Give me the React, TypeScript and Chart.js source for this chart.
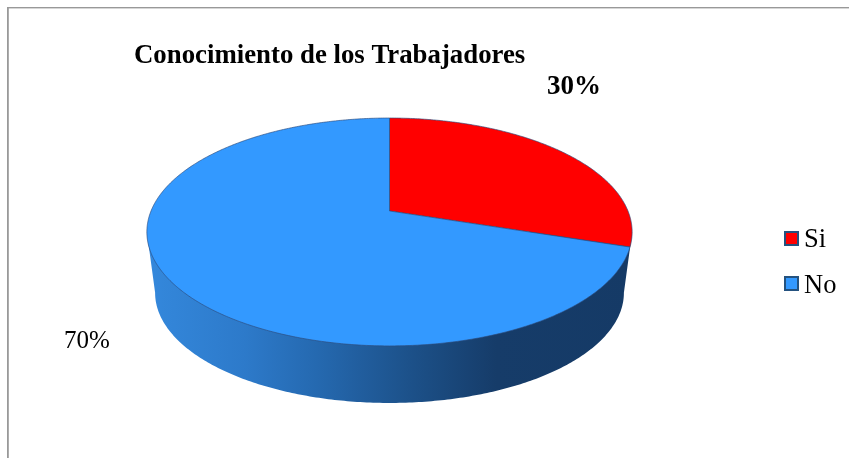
import React, { useEffect, useRef } from "react";
import { Chart, registerables } from "chart.js";

Chart.register(...registerables);

const categories = ["Si", "No"];
const shareValues = [30, 70];
const sliceColors = ["#ff0000", "#3399ff"];
const chartTitle = "Conocimiento de los Trabajadores";
const SERIF = '"Liberation Serif", serif';

// perspective of the disc
const CX = 389.5;
const APEX_Y = 211;
const RX = 238.5;
const SY = 110.1;
const K = -0.184;
const BOTTOM_SCALE = 0.966;
const BOTTOM_APEX_Y = 272.6;

const top = (a: number) => {
  const u = Math.cos(a), v = Math.sin(a), w = 1 + K * v;
  return [CX + (RX * u) / w, APEX_Y + (SY * v) / w];
};
const bottom = (a: number) => {
  const u = Math.cos(a), v = Math.sin(a), w = 1 + K * v;
  return [CX + (RX * BOTTOM_SCALE * u) / w, BOTTOM_APEX_Y + (SY * BOTTOM_SCALE * v) / w];
};

const tiltedPie = {
  id: "tiltedPie",
  afterLayout(chart: any) {
    const t = chart.titleBlock;
    if (t) {
      const lh = t.options.font.size * 1.2;
      t.left = 134;
      t.right = 600;
      t.top = 56.5 - lh / 2;
      t.bottom = 56.5 + lh / 2;
    }
  },
  beforeDraw(chart: any) {
    const { ctx } = chart;
    ctx.save();
    ctx.fillStyle = "#999999";
    ctx.fillRect(7, 7, 842, 1.4);
    ctx.fillRect(7, 7, 1.8, 451);
    ctx.restore();
  },
  beforeDatasetDraw(chart: any, args: any) {
    const { ctx } = chart;
    const arcs = args.meta.data;
    const ds = chart.data.datasets[args.index];
    ctx.save();

    // side wall
    const a0 = Math.asin(-K);
    const a1 = Math.PI - a0;
    const g = ctx.createLinearGradient(147, 0, 632, 0);
    g.addColorStop(0, "#3488dc");
    g.addColorStop(0.2, "#2d7aca");
    g.addColorStop(0.35, "#2569b0");
    g.addColorStop(0.55, "#1c5088");
    g.addColorStop(0.72, "#163c69");
    g.addColorStop(1, "#153a66");
    ctx.beginPath();
    ctx.moveTo(...(top(a0) as [number, number]));
    for (let i = 0; i <= 240; i++) {
      const p = bottom(a0 + ((a1 - a0) * i) / 240);
      ctx.lineTo(p[0], p[1]);
    }
    const pe = top(a1);
    ctx.lineTo(pe[0], pe[1]);
    ctx.closePath();
    ctx.fillStyle = g;
    ctx.fill();

    // top face, one wedge per arc element
    arcs.forEach((arc: any, i: number) => {
      const { startAngle, endAngle } = arc.getProps(["startAngle", "endAngle"], true);
      ctx.beginPath();
      ctx.moveTo(CX, APEX_Y);
      const n = Math.ceil(((endAngle - startAngle) * 180) / Math.PI) * 2;
      for (let j = 0; j <= n; j++) {
        const p = top(startAngle + ((endAngle - startAngle) * j) / n);
        ctx.lineTo(p[0], p[1]);
      }
      ctx.closePath();
      ctx.fillStyle = ds.backgroundColor[i];
      ctx.fill();
      ctx.strokeStyle = "rgba(45,75,125,0.65)";
      ctx.lineWidth = 1;
      ctx.stroke();
    });
    ctx.restore();
    return false;
  },
  afterDraw(chart: any) {
    const { ctx } = chart;
    const values: number[] = chart.data.datasets[0].data;
    const total = values.reduce((s, v) => s + v, 0);
    const colors = chart.data.datasets[0].backgroundColor;
    ctx.save();
    ctx.textBaseline = "middle";
    ctx.fillStyle = "#000";
    // data labels
    const labelPos = [[574, 87], [87, 341.5]];
    const labelFonts = ["bold 27px", "25px"];
    values.forEach((v, i) => {
      ctx.font = `${labelFonts[i]} ${SERIF}`;
      ctx.textAlign = "center";
      ctx.fillText(`${Math.round((v / total) * 100)}%`, labelPos[i][0], labelPos[i][1]);
    });
    // legend
    const boxTop = [232, 277];
    const legendTextY = [240, 286];
    chart.data.labels.forEach((label: string, i: number) => {
      ctx.fillStyle = colors[i];
      ctx.strokeStyle = "#24527f";
      ctx.lineWidth = 2;
      ctx.fillRect(785, boxTop[i], 13, 13);
      ctx.strokeRect(785, boxTop[i], 13, 13);
      ctx.fillStyle = "#000";
      ctx.font = `26.5px ${SERIF}`;
      ctx.textAlign = "left";
      ctx.fillText(label, 804, legendTextY[i]);
    });
    ctx.restore();
  },
};

export default function App() {
  const ref = useRef<HTMLCanvasElement>(null);
  useEffect(() => {
    const chart = new Chart(ref.current as HTMLCanvasElement, {
      type: "pie",
      data: {
        labels: categories,
        datasets: [{ data: shareValues, backgroundColor: sliceColors, borderWidth: 0 }],
      },
      options: {
        animation: false,
        responsive: false,
        devicePixelRatio: 1,
        plugins: {
          legend: { display: false },
          tooltip: { enabled: false },
          title: {
            display: true,
            text: chartTitle,
            align: "start",
            color: "#000",
            padding: 0,
            font: { family: SERIF, size: 26.8, weight: "bold" },
          },
        },
      },
      plugins: [tiltedPie],
    } as any);
    return () => chart.destroy();
  }, []);
  return (
    <canvas
      ref={ref}
      width={849}
      height={458}
      style={{ position: "absolute", left: 0, top: 0, display: "block" }}
    />
  );
}
